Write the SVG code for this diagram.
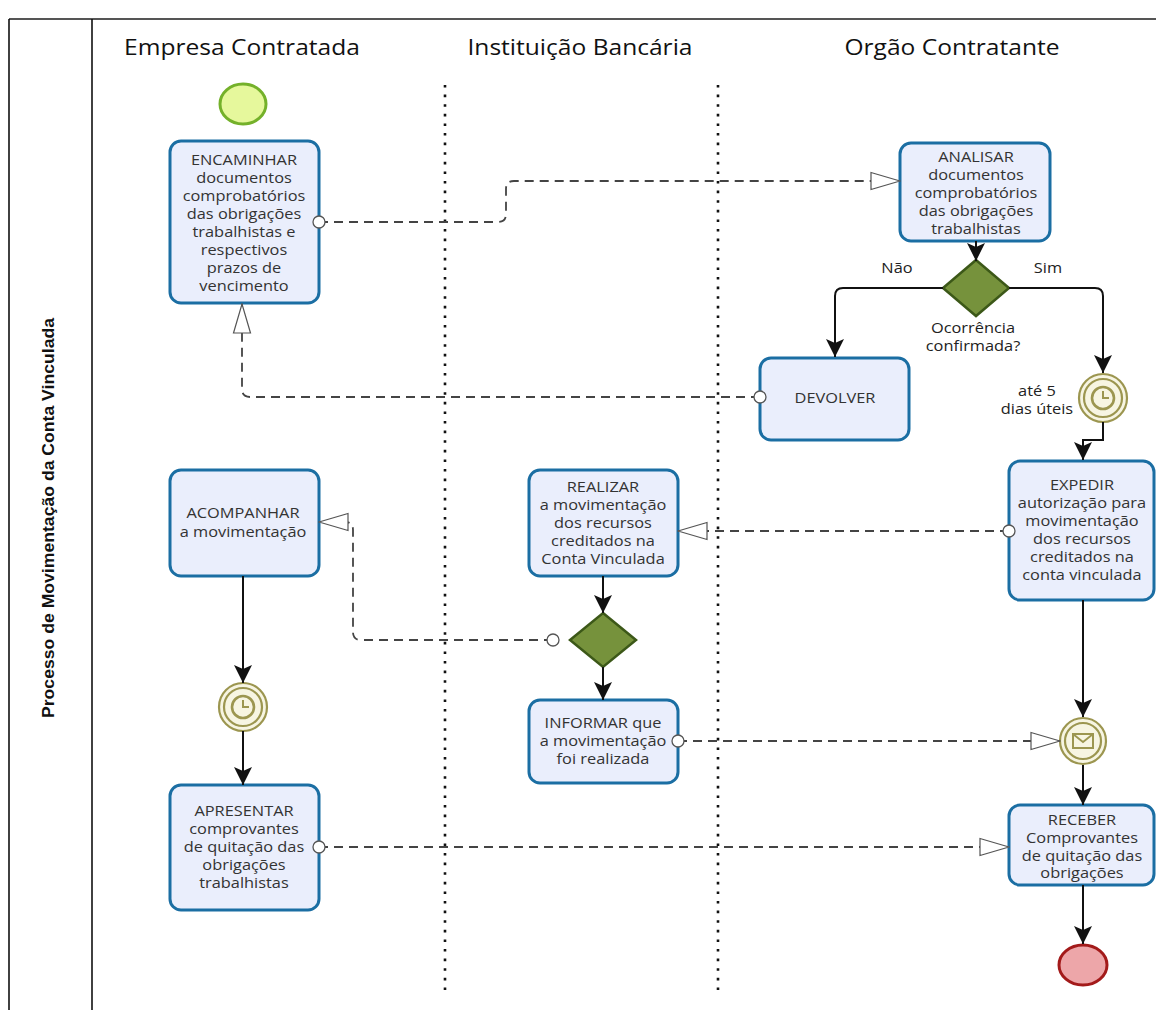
<svg xmlns="http://www.w3.org/2000/svg" width="1156" height="1010" viewBox="0 0 1156 1010">
<style>
.task{fill:#eaeefc;stroke:#1b6ea3;stroke-width:3}
.t{font-family:"Open Sans","Noto Sans",sans-serif;font-size:14px;fill:#333;text-anchor:middle}
.lane{font-family:"Open Sans","Noto Sans",sans-serif;font-size:21px;fill:#111;text-anchor:middle}
.lbl{font-family:"Open Sans","Noto Sans",sans-serif;font-size:14px;fill:#222;text-anchor:middle}
.flow{stroke:#111;stroke-width:2;fill:none;marker-end:url(#arr)}
.msg{stroke:#444;stroke-width:1.8;stroke-dasharray:9 6;fill:none;marker-end:url(#open);marker-start:url(#circ)}
.gw{fill:#76923c;stroke:#3c5818;stroke-width:2.5}
.ev{fill:#f7f5e2;stroke:#9c9650;stroke-width:2.2}
.div{stroke:#111;stroke-width:2.6;stroke-dasharray:2.6 7;fill:none}
</style>
<defs>
<marker id="arr" markerUnits="userSpaceOnUse" markerWidth="20" markerHeight="20" viewBox="0 0 20 20" refX="19" refY="10" orient="auto">
<path d="M1,1 L19,10 L1,19 L5,10 Z" fill="#111"/>
</marker>
<marker id="open" markerUnits="userSpaceOnUse" markerWidth="32" markerHeight="20" viewBox="0 0 32 20" refX="31" refY="10" orient="auto">
<path d="M2,1.5 L31,10 L2,18.5 Z" fill="#fff" stroke="#555" stroke-width="1.2"/>
</marker>
<marker id="circ" markerUnits="userSpaceOnUse" markerWidth="16" markerHeight="16" viewBox="0 0 16 16" refX="8" refY="8" orient="auto">
<circle cx="8" cy="8" r="6" fill="#fff" stroke="#555" stroke-width="1.3"/>
</marker>
</defs>
<rect width="1156" height="1010" fill="#fff"/>
<g id="pool">
<line x1="9" y1="19" x2="1156" y2="19" stroke="#555" stroke-width="2"/>
<line x1="9" y1="19" x2="9" y2="1010" stroke="#111" stroke-width="1.6"/>
<line x1="92" y1="19" x2="92" y2="1010" stroke="#111" stroke-width="1.6"/>
<text transform="translate(54,518) rotate(-90)" font-family="'Liberation Sans',Arial,sans-serif" font-size="16" font-weight="bold" fill="#111" text-anchor="middle" textLength="400" lengthAdjust="spacingAndGlyphs">Processo de Movimentação da Conta Vinculada</text>
<line class="div" x1="445" y1="85" x2="445" y2="992"/>
<line class="div" x1="718" y1="85" x2="718" y2="992"/>
<text class="lane" x="242" y="55" transform="matrix(1.17,0,0,1,-41.14,0)">Empresa Contratada</text>
<text class="lane" x="580" y="55" transform="matrix(1.17,0,0,1,-98.6,0)">Instituição Bancária</text>
<text class="lane" x="952" y="55" transform="matrix(1.17,0,0,1,-161.84,0)">Orgão Contratante</text>
</g>
<g id="start">
<ellipse cx="243" cy="104" rx="23" ry="20" fill="#e6f89c" stroke="#74b12a" stroke-width="3"/>
</g>
<g id="encaminhar">
<rect class="task" x="170" y="141" width="149" height="162" rx="11"/>
<text class="t" transform="matrix(1.17,0,0,1,-41.48,0)"><tspan x="244" y="165">ENCAMINHAR</tspan><tspan x="244" y="183">documentos</tspan><tspan x="244" y="201">comprobatórios</tspan><tspan x="244" y="219">das obrigações</tspan><tspan x="244" y="237">trabalhistas e</tspan><tspan x="244" y="255">respectivos</tspan><tspan x="244" y="273">prazos de</tspan><tspan x="244" y="291">vencimento</tspan></text>
</g>
<g id="analisar">
<rect class="task" x="900" y="143" width="150" height="98" rx="11"/>
<text class="t" transform="matrix(1.17,0,0,1,-165.92,0)"><tspan x="976" y="162">ANALISAR</tspan><tspan x="976" y="180">documentos</tspan><tspan x="976" y="198">comprobatórios</tspan><tspan x="976" y="216">das obrigações</tspan><tspan x="976" y="234">trabalhistas</tspan></text>
</g>
<g id="gateway1">
<path class="gw" d="M976,260 L1009,288 L976,316 L943,288 Z"/>
<text class="lbl" transform="matrix(1.17,0,0,1,-165.41,0)"><tspan x="973" y="333">Ocorrência</tspan><tspan x="973" y="351">confirmada?</tspan></text>
</g>
<g id="devolver">
<rect class="task" x="760" y="358" width="149" height="82" rx="11"/>
<text class="t" x="835" y="403" transform="matrix(1.17,0,0,1,-141.95,0)">DEVOLVER</text>
</g>
<g id="timer1">
<circle class="ev" cx="1103" cy="398" r="24"/>
<circle cx="1103" cy="398" r="19" fill="none" stroke="#9c9650" stroke-width="2.2"/>
<circle cx="1103" cy="398" r="11" fill="none" stroke="#9c9650" stroke-width="2.6"/>
<path d="M1103,391 V398 H1109" fill="none" stroke="#9c9650" stroke-width="2"/>
<text class="lbl" font-size="13" fill="#111" transform="matrix(1.17,0,0,1,-176.29,0)"><tspan x="1037" y="396">até 5</tspan><tspan x="1037" y="414">dias úteis</tspan></text>
</g>
<g id="expedir">
<rect class="task" x="1009" y="461" width="145" height="139" rx="11"/>
<text class="t" transform="matrix(1.17,0,0,1,-183.94,0)"><tspan x="1082" y="490">EXPEDIR</tspan><tspan x="1082" y="508">autorização para</tspan><tspan x="1082" y="526">movimentação</tspan><tspan x="1082" y="544">dos recursos</tspan><tspan x="1082" y="562">creditados na</tspan><tspan x="1082" y="580">conta vinculada</tspan></text>
</g>
<g id="realizar">
<rect class="task" x="529" y="470" width="149" height="106" rx="11"/>
<text class="t" transform="matrix(1.17,0,0,1,-102.51,0)"><tspan x="603" y="492">REALIZAR</tspan><tspan x="603" y="510">a movimentação</tspan><tspan x="603" y="528">dos recursos</tspan><tspan x="603" y="546">creditados na</tspan><tspan x="603" y="564">Conta Vinculada</tspan></text>
</g>
<g id="acompanhar">
<rect class="task" x="170" y="470" width="149" height="106" rx="11"/>
<text class="t" transform="matrix(1.17,0,0,1,-41.31,0)"><tspan x="243" y="518">ACOMPANHAR</tspan><tspan x="243" y="537">a movimentação</tspan></text>
</g>
<g id="gateway2">
<path class="gw" d="M603,613 L636,640 L603,667 L570,640 Z"/>
</g>
<g id="informar">
<rect class="task" x="529" y="700" width="149" height="83" rx="11"/>
<text class="t" transform="matrix(1.17,0,0,1,-102.51,0)"><tspan x="603" y="728">INFORMAR que</tspan><tspan x="603" y="746">a movimentação</tspan><tspan x="603" y="764">foi realizada</tspan></text>
</g>
<g id="timer2">
<circle class="ev" cx="243" cy="707" r="24"/>
<circle cx="243" cy="707" r="19" fill="none" stroke="#9c9650" stroke-width="2.2"/>
<circle cx="243" cy="707" r="11" fill="none" stroke="#9c9650" stroke-width="2.6"/>
<path d="M243,700 V707 H249" fill="none" stroke="#9c9650" stroke-width="2"/>
</g>
<g id="apresentar">
<rect class="task" x="170" y="785" width="149" height="125" rx="11"/>
<text class="t" transform="matrix(1.17,0,0,1,-41.48,0)"><tspan x="244" y="816">APRESENTAR</tspan><tspan x="244" y="834">comprovantes</tspan><tspan x="244" y="852">de quitação das</tspan><tspan x="244" y="870">obrigações</tspan><tspan x="244" y="888">trabalhistas</tspan></text>
</g>
<g id="message">
<circle class="ev" cx="1083" cy="741" r="23"/>
<circle cx="1083" cy="741" r="18" fill="none" stroke="#9c9650" stroke-width="2.2"/>
<rect x="1073" y="734" width="20" height="14" fill="none" stroke="#9c9650" stroke-width="2"/>
<path d="M1073,734 L1083,742 L1093,734" fill="none" stroke="#9c9650" stroke-width="1.8"/>
</g>
<g id="receber">
<rect class="task" x="1009" y="805" width="145" height="80" rx="11"/>
<text class="t" transform="matrix(1.17,0,0,1,-183.94,0)"><tspan x="1082" y="825">RECEBER</tspan><tspan x="1082" y="843">Comprovantes</tspan><tspan x="1082" y="861">de quitação das</tspan><tspan x="1082" y="878">obrigações</tspan></text>
</g>
<g id="end">
<ellipse cx="1083" cy="965" rx="24" ry="20" fill="#eda6a9" stroke="#a31a1a" stroke-width="3"/>
</g>
<g id="connectors">
<path class="msg" d="M319,222 H498 Q506,222 506,214 V189 Q506,181 514,181 H900"/>
<path class="flow" d="M976,241 V261"/>
<path class="flow" d="M943,288 H843 Q835,288 835,296 V357"/>
<path class="flow" d="M1009,288 H1095 Q1103,288 1103,296 V373"/>
<path class="msg" d="M760,397 H250 Q242,397 242,389 V304"/>
<path class="flow" d="M1103,422 V440 H1083 V460"/>
<path class="msg" d="M1009,531 H678"/>
<path class="flow" d="M603,576 V613"/>
<path class="flow" d="M603,667 V700"/>
<path class="msg" d="M553,640 H361 Q353,640 353,632 V530 Q353,522 345,522 H319"/>
<path class="flow" d="M243,576 V683"/>
<path class="flow" d="M243,731 V785"/>
<path class="msg" d="M678,741 H1060"/>
<path class="flow" d="M1083,600 V717"/>
<path class="flow" d="M1083,765 V805"/>
<path class="msg" d="M319,847 H1009"/>
<path class="flow" d="M1083,885 V944"/>
<text class="lbl" x="897" y="273" transform="matrix(1.17,0,0,1,-152.49,0)">Não</text>
<text class="lbl" x="1048" y="273" transform="matrix(1.17,0,0,1,-178.16,0)">Sim</text>
</g>
</svg>
